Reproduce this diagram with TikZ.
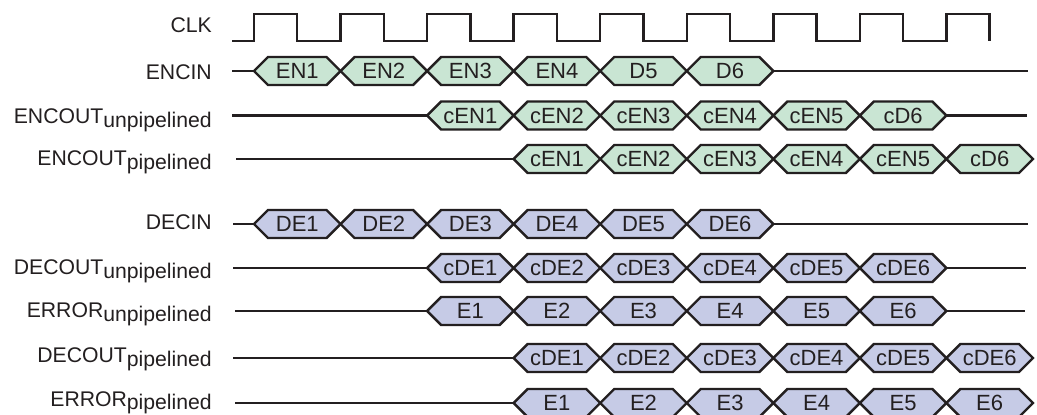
\documentclass[tikz,border=0pt]{standalone}
\usepackage{fontspec}
\setmainfont{Liberation Sans}
\definecolor{encg}{RGB}{201,229,211}
\definecolor{decb}{RGB}{198,203,230}
\definecolor{ink}{RGB}{35,31,32}
\newcommand\lblfont{\fontsize{21.2}{24}\selectfont}
\newcommand\cellfont{\fontsize{22}{24}\selectfont}
\newcommand\per{86.55}
\newcommand\rzero{254}
\newcommand\subtxt[1]{\raisebox{-4pt}{#1}}
% #1 id, #2 y, #3 first edge index, #4 fill, #5 cell texts
\newcommand\busrow[5]{%
  \foreach \t [count=\i from 0] in {#5} {
    \pgfmathsetmacro\xa{\rzero+\per*(#3+\i)}
    \pgfmathsetmacro\xb{\xa+\per}
    \filldraw[hexcell, fill=#4] (\xa,#2) -- (\xa+14,#2-14) -- (\xb-14,#2-14)
      -- (\xb,#2) -- (\xb-14,#2+14) -- (\xa+14,#2+14) -- cycle;
    \node[celltext] (#1-\i) at ({(\xa+\xb)/2},#2+7.8) {\t};
  }
}
\tikzset{
  sig/.style={line width=2.4pt, draw=ink},
  hexcell/.style={sig, line join=miter},
  celltext/.style={anchor=base, inner sep=0pt, font=\cellfont, text=ink},
  lbl/.style={anchor=base east, inner sep=0pt, font=\lblfont, text=ink},
}
\begin{document}
\begin{tikzpicture}[x=1pt,y=-1pt]
\useasboundingbox (0,0) rectangle (1037,415);
\fill[white] (0,0) rectangle (1037,415);

% labels
\node[lbl] (lclk)  at (212,32.5) {CLK};
\node[lbl] (lei)   at (212,79) {ENCIN};
\node[lbl] (leou)  at (212,123.5) {ENCOUT\subtxt{unpipelined}};
\node[lbl] (leop)  at (212,165) {ENCOUT\subtxt{pipelined}};
\node[lbl] (ldi)   at (212,229.5) {DECIN};
\node[lbl] (ldou)  at (212,274.5) {DECOUT\subtxt{unpipelined}};
\node[lbl] (lerru) at (212,317.5) {ERROR\subtxt{unpipelined}};
\node[lbl] (ldop)  at (212,362.7) {DECOUT\subtxt{pipelined}};
\node[lbl] (lerrp) at (212,406.5) {ERROR\raisebox{-3pt}{pipelined}};

% clock
\coordinate (clk-s) at (232,41);
\draw[sig, line join=miter] (clk-s)
  \foreach \k in {0,...,7} {
    -- ({\rzero+\per*\k},41) -- ({\rzero+\per*\k},14)
    -- ({\rzero+\per*\k+\per/2},14) -- ({\rzero+\per*\k+\per/2},41)
  }
  -- ({\rzero+\per*8},41) -- ({\rzero+\per*8},14)
  -- ({\rzero+\per*8+\per/2},14) -- ({\rzero+\per*8+\per/2},41);

% trace end points
\pgfmathsetmacro\rA{\rzero}
\pgfmathsetmacro\rC{\rzero+2*\per}
\pgfmathsetmacro\rD{\rzero+3*\per}
\pgfmathsetmacro\rG{\rzero+6*\per}
\pgfmathsetmacro\rI{\rzero+8*\per}
\coordinate (ei-s) at (232,71);   \coordinate (ei-a) at (\rA,71);
\coordinate (ei-b) at (\rG,71);   \coordinate (ei-e) at (1028,71);
\coordinate (eou-s) at (232,115.5); \coordinate (eou-a) at (\rC,115.5);
\coordinate (eou-b) at (\rI,115.5); \coordinate (eou-e) at (1027,115.5);
\coordinate (eop-s) at (236,159); \coordinate (eop-a) at (\rD,159);
\coordinate (di-s) at (233,224);  \coordinate (di-a) at (\rA,224);
\coordinate (di-b) at (\rG,224);  \coordinate (di-e) at (1028,224);
\coordinate (dou-s) at (233,268); \coordinate (dou-a) at (\rC,268);
\coordinate (dou-b) at (\rI,268); \coordinate (dou-e) at (1026,268);
\coordinate (eru-s) at (235,311); \coordinate (eru-a) at (\rC,311);
\coordinate (eru-b) at (\rI,311); \coordinate (eru-e) at (1025,311);
\coordinate (dop-s) at (233,358); \coordinate (dop-a) at (\rD,358);
\coordinate (erp-s) at (235,403); \coordinate (erp-a) at (\rD,403);

\draw[sig] (ei-s) -- (ei-a);   \draw[sig] (ei-b) -- (ei-e);
\draw[sig] (eou-s) -- (eou-a); \draw[sig] (eou-b) -- (eou-e);
\draw[sig] (eop-s) -- (eop-a);
\draw[sig] (di-s) -- (di-a);   \draw[sig] (di-b) -- (di-e);
\draw[sig] (dou-s) -- (dou-a); \draw[sig] (dou-b) -- (dou-e);
\draw[sig] (eru-s) -- (eru-a); \draw[sig] (eru-b) -- (eru-e);
\draw[sig] (dop-s) -- (dop-a);
\draw[sig] (erp-s) -- (erp-a);

% bus cells
\busrow{ei}{71}{0}{encg}{EN1,EN2,EN3,EN4,D5,D6}
\busrow{eou}{115.5}{2}{encg}{cEN1,cEN2,cEN3,cEN4,cEN5,cD6}
\busrow{eop}{159}{3}{encg}{cEN1,cEN2,cEN3,cEN4,cEN5,cD6}
\busrow{di}{224}{0}{decb}{DE1,DE2,DE3,DE4,DE5,DE6}
\busrow{dou}{268}{2}{decb}{cDE1,cDE2,cDE3,cDE4,cDE5,cDE6}
\busrow{eru}{311}{2}{decb}{E1,E2,E3,E4,E5,E6}
\busrow{dop}{358}{3}{decb}{cDE1,cDE2,cDE3,cDE4,cDE5,cDE6}
\busrow{erp}{403}{3}{decb}{E1,E2,E3,E4,E5,E6}
\end{tikzpicture}
\end{document}
